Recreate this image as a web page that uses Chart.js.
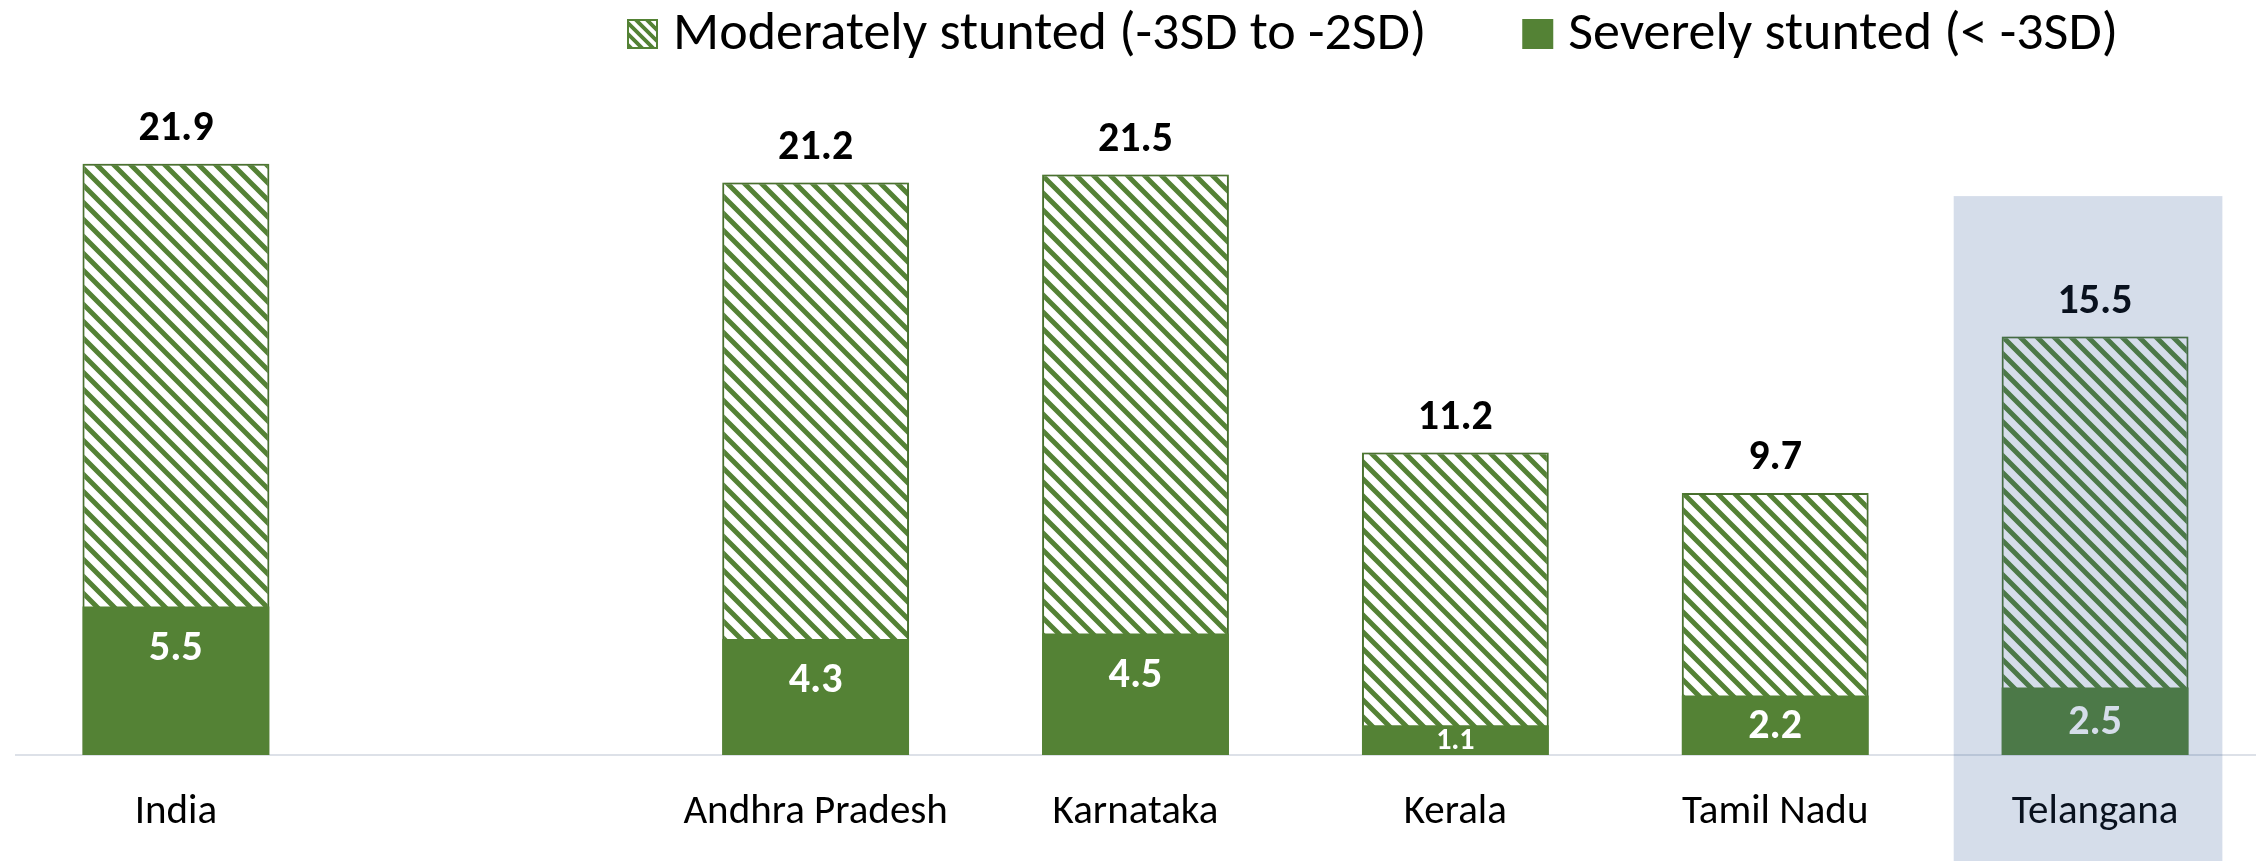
<!DOCTYPE html>
<html lang="en">
<head>
<meta charset="UTF-8" />
<title>Stunted children by state</title>
<script src="https://cdn.jsdelivr.net/npm/chart.js@4.4.1/dist/chart.umd.min.js"></script>
<style>
  body { margin: 0; background: #fff; }
  #wrap { width: 2260px; height: 861px; position: relative; }
</style>
</head>
<body>
<div id="wrap"><canvas id="stunting"></canvas></div>
<script>
const states = ["India", "", "Andhra Pradesh", "Karnataka", "Kerala", "Tamil Nadu", "Telangana"];
const moderate = [21.9, null, 21.2, 21.5, 11.2, 9.7, 15.5];
const severe = [5.5, null, 4.3, 4.5, 1.1, 2.2, 2.5];
const seriesNames = ["Moderately stunted (-3SD to -2SD)", "Severely stunted (< -3SD)"];
const highlighted = "Telangana";
const highlightTop = 20.7; // top of the shaded box, in axis units

const green = "#548235";
const font = "Carlito, Calibri, Lato, sans-serif";

// diagonal hatch like the Excel "wide downward diagonal" fill
function hatch(size, lw) {
  const c = document.createElement("canvas");
  c.width = size; c.height = size;
  const g = c.getContext("2d");
  g.fillStyle = "#fff";
  g.fillRect(0, 0, size, size);
  g.strokeStyle = green;
  g.lineWidth = lw;
  g.beginPath();
  for (const k of [-size, 0, size]) {
    g.moveTo(k - 2, -2);
    g.lineTo(k + size + 2, size + 2);
  }
  g.stroke();
  return g.createPattern(c, "repeat");
}
const barHatch = hatch(17, 5);
const legendHatch = hatch(11, 3.8);

// soft shadow under the hatched bars
const shadow = {
  id: "shadow",
  beforeDatasetDraw(chart, args) {
    if (args.index !== 0) return;
    chart.ctx.save();
    chart.ctx.shadowColor = "rgba(0,0,0,0.35)";
    chart.ctx.shadowBlur = 6;
  },
  afterDatasetDraw(chart, args) {
    if (args.index !== 0) return;
    chart.ctx.restore();
  }
};

// value labels
const labels = {
  id: "labels",
  afterDatasetsDraw(chart) {
    const ctx = chart.ctx;
    ctx.save();
    ctx.textAlign = "center";
    ctx.textBaseline = "alphabetic";
    chart.data.datasets.forEach((ds, i) => {
      chart.getDatasetMeta(i).data.forEach((bar, j) => {
        const v = ds.data[j];
        if (v == null) return;
        if (i === 0) {
          ctx.font = "bold 42px " + font;
          ctx.fillStyle = "#000";
          ctx.fillText(v.toFixed(1), bar.x, bar.y - 24);
        } else {
          const h = bar.base - bar.y;
          const size = h < 45 ? 30 : 42;
          const cap = size * 0.62;
          ctx.font = "bold " + size + "px " + font;
          ctx.fillStyle = "#fff";
          ctx.fillText(v.toFixed(1), bar.x, Math.min(bar.y + 53, (bar.y + bar.base) / 2 + cap / 2));
        }
      });
    });
    ctx.restore();
  }
};

// legend on top and the shaded box over Telangana
const extras = {
  id: "extras",
  afterDraw(chart) {
    const ctx = chart.ctx;
    ctx.save();
    ctx.font = "54px " + font;
    ctx.textAlign = "left";
    ctx.textBaseline = "alphabetic";
    let x = 627;
    seriesNames.forEach((name, i) => {
      ctx.fillStyle = green;
      ctx.fillRect(x, 19, 31, 30);
      if (i === 0) {
        ctx.fillStyle = legendHatch;
        ctx.fillRect(x + 2, 21, 27, 26);
      }
      ctx.fillStyle = "#000";
      ctx.fillText(name, x + 46, 49);
      x += 46 + ctx.measureText(name).width + 96;
    });

    const xs = chart.scales.x, ys = chart.scales.y;
    const cx = xs.getPixelForValue(states.indexOf(highlighted));
    const w = xs.width / states.length;
    ctx.fillStyle = "rgba(47,85,151,0.2)";
    ctx.fillRect(cx - 0.442 * w, ys.getPixelForValue(highlightTop), 0.84 * w, chart.height);
    ctx.restore();
  }
};

new Chart(document.getElementById("stunting"), {
  type: "bar",
  data: {
    labels: states,
    datasets: [
      {
        label: seriesNames[0],
        data: moderate,
        backgroundColor: barHatch,
        borderColor: green,
        borderWidth: 2,
        borderSkipped: false,
        grouped: false,
        order: 1
      },
      {
        label: seriesNames[1],
        data: severe,
        backgroundColor: green,
        borderWidth: 0,
        grouped: false,
        order: 0
      }
    ]
  },
  options: {
    responsive: true,
    maintainAspectRatio: false,
    animation: false,
    layout: { padding: { top: 80, left: 16, right: 5, bottom: 0 } },
    datasets: { bar: { categoryPercentage: 1, barPercentage: 0.584 } },
    plugins: { legend: { display: false }, tooltip: { enabled: false } },
    scales: {
      x: {
        grid: { display: false, drawTicks: false },
        border: { display: true, color: "#DDE1E8", width: 2 },
        ticks: {
          color: "#000",
          font: { family: font, size: 41 },
          padding: 33,
          autoSkip: false,
          maxRotation: 0
        },
        afterFit(scale) { scale.height = 106; }
      },
      y: { display: false, min: 0, max: 25 }
    }
  },
  plugins: [shadow, labels, extras]
});
</script>
</body>
</html>
